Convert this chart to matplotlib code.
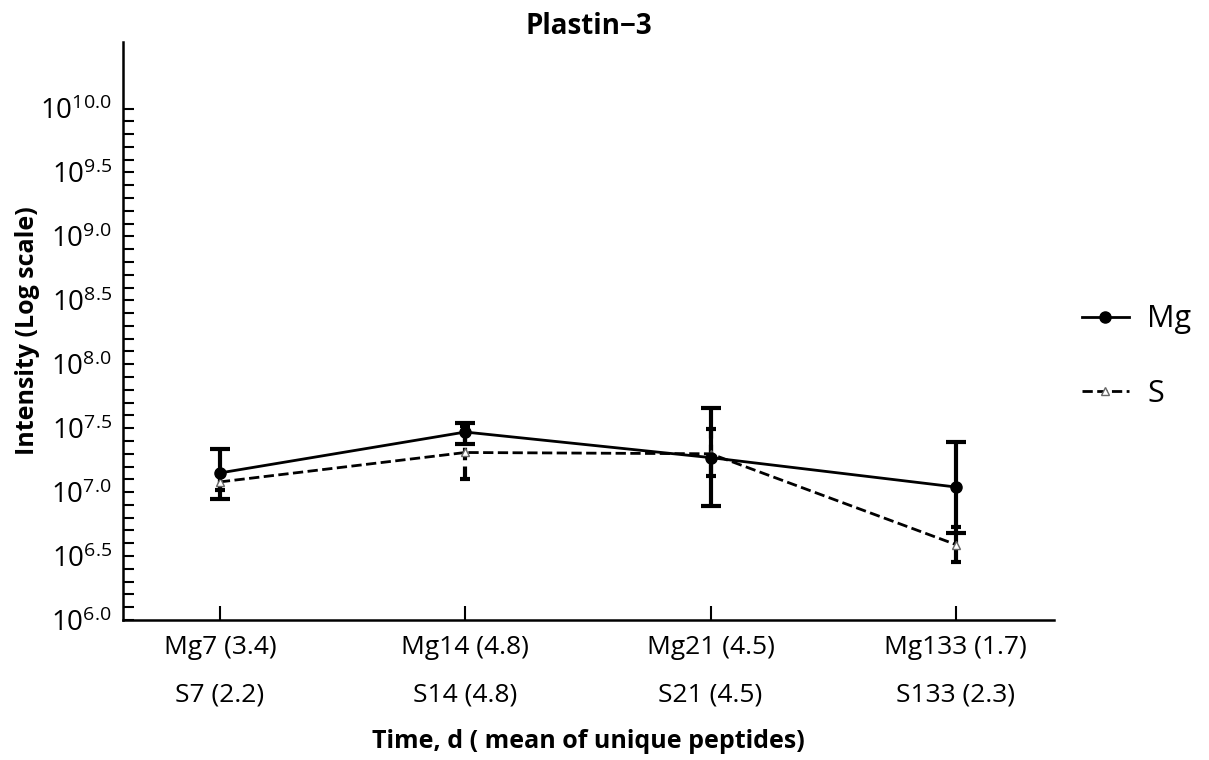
import numpy as np
import matplotlib
matplotlib.use('Agg')
import matplotlib.pyplot as plt
from matplotlib.ticker import FixedLocator, FuncFormatter, NullFormatter

plt.rcParams['font.family'] = ['Open Sans', 'DejaVu Sans']
plt.rcParams['mathtext.fontset'] = 'custom'
plt.rcParams['mathtext.rm'] = 'Open Sans'
plt.rcParams['mathtext.it'] = 'Open Sans'
plt.rcParams['mathtext.bf'] = 'Open Sans:bold'

# tick labels (day + mean unique peptides)
categories = ['Mg7 (3.4)\nS7 (2.2)', 'Mg14 (4.8)\nS14 (4.8)',
              'Mg21 (4.5)\nS21 (4.5)', 'Mg133 (1.7)\nS133 (2.3)']

# log10 intensity
mg_mean = [7.15, 7.47, 7.27, 7.04]
mg_low = [6.945, 7.38, 6.89, 6.68]
mg_high = [7.34, 7.54, 7.655, 7.39]

s_mean = [7.08, 7.31, 7.30, 6.59]
s_low = [7.02, 7.10, 7.125, 6.455]
s_high = [7.14, 7.52, 7.49, 6.73]

x = np.arange(len(categories))

fig = plt.figure(figsize=(12.09, 7.6), dpi=100)
ax = fig.add_axes([0.1017, 0.1842, 0.7701, 0.7605])

def draw(mean, low, high, ls, marker, mfc, ms, capsize, label):
    y = 10 ** np.array(mean)
    err = [y - 10 ** np.array(low), 10 ** np.array(high) - y]
    eb = ax.errorbar(x, y, yerr=err, color='black', linestyle=ls, linewidth=2,
                     marker=marker, markersize=ms, markerfacecolor=mfc,
                     markeredgecolor='black' if mfc == 'black' else '#666666',
                     elinewidth=3, capsize=capsize, capthick=3, label=label)
    if ls == '--':
        eb[2][0].set_linestyle((0, (3, 1.5)))
    return eb

draw(s_mean, s_low, s_high, '--', '^', 'white', 6, 3.5, 'S')
draw(mg_mean, mg_low, mg_high, '-', 'o', 'black', 8, 7.5, 'Mg')

ax.set_yscale('log')
ax.set_ylim(10 ** 6.0, 10 ** 10.52)
ax.set_xlim(-0.395, 3.40)

ax.yaxis.set_major_locator(FixedLocator(10 ** np.arange(6.0, 10.01, 0.5)))
ax.yaxis.set_minor_locator(FixedLocator(10 ** np.arange(6.0, 10.01, 0.1)))
ax.yaxis.set_major_formatter(FuncFormatter(lambda v, p: r'$\mathregular{10^{%.1f}}$' % np.log10(v)))
ax.yaxis.set_minor_formatter(NullFormatter())

ax.set_xticks(x)
ax.set_xticklabels(categories, linespacing=2.15)

ax.tick_params(axis='y', which='both', direction='in', length=8, width=1.5, labelsize=20, pad=8)
ax.tick_params(axis='x', direction='in', length=10, width=1.5, labelsize=19, pad=11)

for side in ['top', 'right']:
    ax.spines[side].set_visible(False)
for side in ['left', 'bottom']:
    ax.spines[side].set_linewidth(1.8)

ax.set_title('Plastin\u22123', fontsize=20, fontweight='bold', pad=6)
ax.set_xlabel('Time, d ( mean of unique peptides)', fontsize=18, fontweight='bold', labelpad=16)
ax.set_ylabel('Intensity (Log scale)', fontsize=18, fontweight='bold', labelpad=0)

handles, labels = ax.get_legend_handles_labels()
handles = [h[0] for h in handles[::-1]]
fig.legend(handles, labels[::-1], loc='upper left', bbox_to_anchor=(1054 / 1209, 1 - 277 / 760),
           frameon=False, fontsize=22, handlelength=1.55, labelspacing=1.45, handletextpad=0.6)

fig.savefig('out.png', dpi=100)
